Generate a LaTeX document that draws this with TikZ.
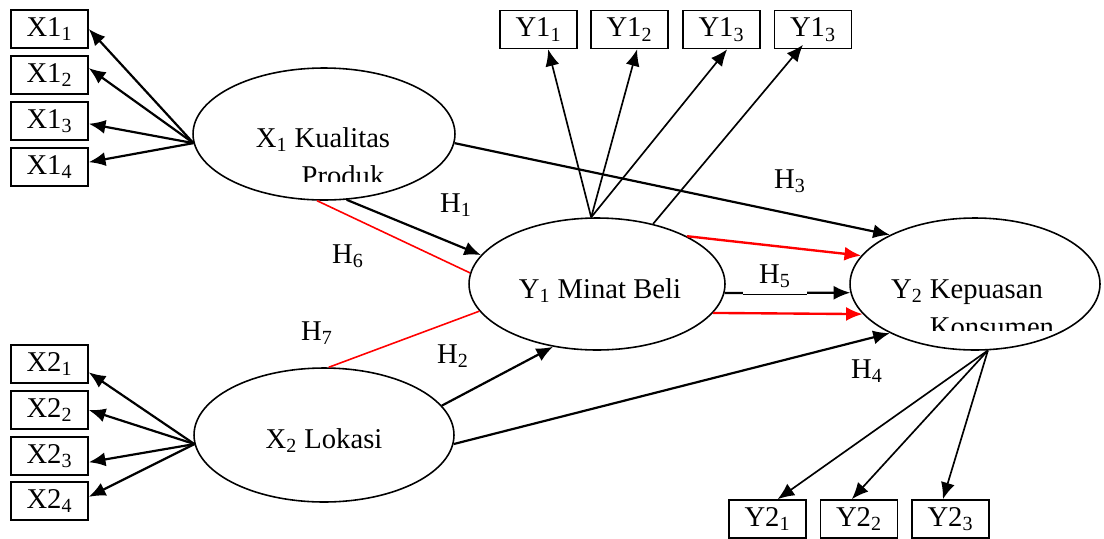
\documentclass[tikz,border=0pt]{standalone}
\usepackage{fontspec}
\setmainfont{Liberation Serif}
\usepackage{tikz}
\usetikzlibrary{arrows.meta,shapes.geometric,calc}

\begin{document}
\begin{tikzpicture}[x=0.02cm,y=-0.02cm,
  font=\fontsize{16.3}{18}\selectfont,
  ind/.style={draw,line width=.9pt,minimum width=1.54cm,minimum height=.76cm,inner sep=0pt},
  lat/.style={draw,ellipse,line width=.9pt,inner sep=0pt},
  arr/.style={-{Latex[length=9.5pt,width=8pt]},line width=1.25pt},
  tarr/.style={-{Latex[length=9.5pt,width=8pt]},line width=.95pt},
  hyp/.style={red,line width=.9pt},
  lbl/.style={anchor=base,inner sep=0pt}]
\useasboundingbox (0,0) rectangle (1104,538);
\node[lat,minimum width=5.24cm,minimum height=2.64cm] (x1) at (324,134) {};
\node[lat,minimum width=5.2cm,minimum height=2.68cm] (x2) at (324,435) {};
\node[lat,minimum width=5.12cm,minimum height=2.64cm] (y1) at (597,284) {};
\node[lat,minimum width=5cm,minimum height=2.64cm] (y2) at (975,284) {};
\node[lbl] (x1t) at (323,147) {X\textsubscript{1} Kualitas};
\begin{scope}
  \clip (250,150) rectangle (420,181);
  \node[lbl] (x1p) at (343,185) {Produk};
\end{scope}
\node[lbl] (x2t) at (324,448) {X\textsubscript{2} Lokasi};
\node[lbl] (y1t) at (600,298) {Y\textsubscript{1} Minat Beli};
\node[lbl] (y2t) at (967,298) {Y\textsubscript{2} Kepuasan};
\begin{scope}
  \clip (900,300) rectangle (1080,330);
  \node[lbl] (y2k) at (992,336) {Konsumen};
\end{scope}
\foreach \i/\y/\a in {1/29/0,2/75/10,3/121/-4.5,4/167/7.4}{
  \node[ind] (x1\i) at (49.5,\y) {X1\textsubscript{\i}};
  \draw[arr] (x1.184) -- (x1\i.\a);
}
\foreach \i/\y/\a in {1/364/-12,2/410/0,3/456/-9,4/501/6}{
  \node[ind] (x2\i) at (49.5,\y) {X2\textsubscript{\i}};
  \draw[arr] (x2.184) -- (x2\i.\a);
}
\foreach \i/\x/\s in {1/538.5/1,2/629.5/2,3/721.5/3,4/813/3}
  \node[ind] (y1\i) at (\x,29.5) {Y1\textsubscript{\s}};
\draw[tarr] (y1.95) -- (y11.-64);
\draw[tarr] (y1.95) -- (y12.-69);
\draw[tarr] (y1.95) -- (y13.-74);
\draw[tarr] (y1.47) -- ($(y14.south)+(-10,-4.5)$);
\foreach \i/\x/\a in {1/767.5/63.4,2/859/110,3/950.5/111.5}{
  \node[ind] (y2\i) at (\x,519) {Y2\textsubscript{\i}};
  \draw[tarr] (y2.-79) -- (y2\i.\a);
}
\draw[arr] (x1.-4) -- (y2.150);
\draw[arr] (x1.-71) -- (y1.166);
\draw[hyp] (x1.-96) -- (y1.175);
\draw[hyp] (x2.86) -- (y1.193);
\draw[arr] (x2.14) -- (y1.235);
\draw[arr] (x2.-4) -- (y2.210);
\draw[arr] (y1.-4) -- (y2.184);
\fill[white] (743,280) rectangle (807,295.5);
\draw[line width=.4pt] (743,294) -- (807,294);
\draw[arr,red,line width=1.35pt] (y1.28) -- (y2.166);
\draw[arr,red,line width=1.35pt] (y1.-14) -- (y2.195);
\node[lbl] (h1) at (456,212) {H\textsubscript{1}};
\node[lbl] (h2) at (453,363) {H\textsubscript{2}};
\node[lbl] (h3) at (790,188) {H\textsubscript{3}};
\node[lbl] (h4) at (867,378) {H\textsubscript{4}};
\node[lbl] (h5) at (775,283) {H\textsubscript{5}};
\node[lbl] (h6) at (348,263) {H\textsubscript{6}};
\node[lbl] (h7) at (317,340) {H\textsubscript{7}};
\end{tikzpicture}
\end{document}
